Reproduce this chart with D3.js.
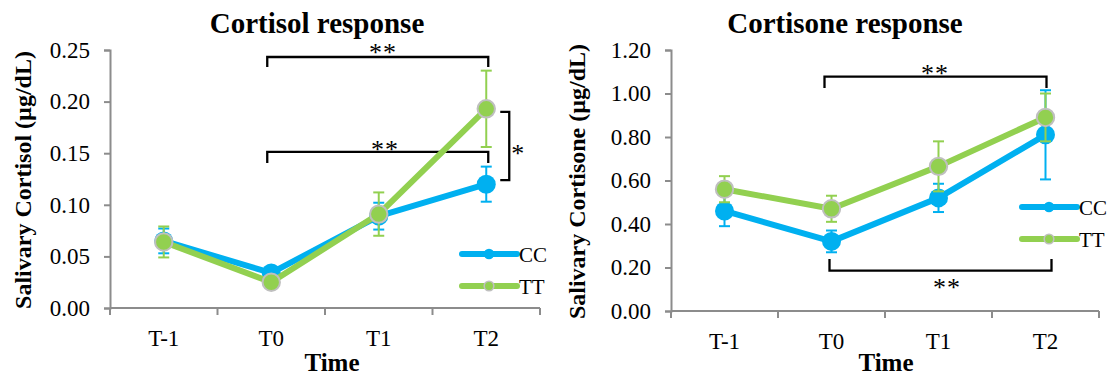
<!DOCTYPE html>
<html>
<head>
<meta charset="utf-8">
<script src="https://cdn.jsdelivr.net/npm/d3@7"></script>
<style>
  html, body { margin: 0; padding: 0; background: #fff; }
  svg { display: block; }
  text { font-family: "Liberation Serif", "Times New Roman", serif; fill: #000; }
</style>
</head>
<body>
<svg id="chart" width="1112" height="376"></svg>
<script>
// ---- data ----
const categories = ["T-1", "T0", "T1", "T2"];
const seriesNames = ["CC", "TT"];

const cortisolTicks = [0, 0.05, 0.10, 0.15, 0.20, 0.25];
const cortisolCC    = [0.065, 0.034, 0.089, 0.120];
const cortisolCCErr = [0.012, 0.004, 0.013, 0.017];
const cortisolTT    = [0.064, 0.025, 0.091, 0.193];
const cortisolTTErr = [0.015, 0.003, 0.021, 0.037];

const cortisoneTicks = [0, 0.2, 0.4, 0.6, 0.8, 1.0, 1.2];
const cortisoneCC    = [0.46, 0.32, 0.52, 0.81];
const cortisoneCCErr = [0.07, 0.05, 0.065, 0.205];
const cortisoneTT    = [0.56, 0.47, 0.665, 0.89];
const cortisoneTTErr = [0.06, 0.06, 0.115, 0.11];

const colors = { CC: "#00b0f0", TT: "#92d050" };
const markerStroke = "#bfbfbf";
const axisColor = "#8c8c8c";
const FONT = '"Liberation Serif", "Times New Roman", serif';

const svg = d3.select("#chart");

function drawPanel(cfg) {
  const g = svg.append("g");
  const x = d3.scaleBand().domain(categories).range([cfg.x0, cfg.x1]);
  const y = d3.scaleLinear().domain([0, cfg.max]).range([cfg.y0, cfg.y1]);
  const cx = c => x(c) + x.bandwidth() / 2;

  // title
  g.append("text").attr("x", cfg.titleX).attr("y", 33)
    .attr("text-anchor", "middle").attr("font-weight", "bold")
    .attr("font-size", 29).text(cfg.title);

  // y axis
  const yAxis = d3.axisLeft(y).tickValues(cfg.ticks).tickFormat(d3.format(".2f"))
    .tickSize(6).tickPadding(14);
  const ya = g.append("g").attr("transform", `translate(${cfg.x0},0)`).call(yAxis);
  ya.attr("font-size", null).attr("font-family", null);
  ya.select(".domain").attr("stroke", axisColor).attr("stroke-width", 2);
  ya.selectAll(".tick line").attr("stroke", axisColor).attr("stroke-width", 2);
  ya.selectAll(".tick text").style("font-family", FONT).style("font-size", "23px").attr("fill", "#000");

  // x axis
  const xAxis = d3.axisBottom(x).tickSize(0).tickPadding(22);
  const xa = g.append("g").attr("transform", `translate(0,${cfg.y0})`).call(xAxis);
  xa.attr("font-size", null).attr("font-family", null);
  xa.select(".domain").attr("stroke", axisColor).attr("stroke-width", 2)
    .attr("d", `M${cfg.x0},0H${cfg.x1}`);
  xa.selectAll(".tick text").style("font-family", FONT).style("font-size", "23px").attr("fill", "#000");
  const bounds = categories.map(c => x(c)).concat([cfg.x1]);
  xa.selectAll("line.bt").data(bounds).enter().append("line").attr("class", "bt")
    .attr("x1", d => d).attr("x2", d => d).attr("y1", 0).attr("y2", 7)
    .attr("stroke", axisColor).attr("stroke-width", 2);

  // axis titles
  g.append("text").attr("x", cfg.timeX).attr("y", 371).attr("text-anchor", "middle")
    .attr("font-weight", "bold").attr("font-size", 25).text("Time");
  g.append("text")
    .attr("transform", `translate(${cfg.labelX},${(cfg.y0 + cfg.y1) / 2 + 1}) rotate(-90)`)
    .attr("text-anchor", "middle").attr("dominant-baseline", "central")
    .attr("font-weight", "bold").attr("font-size", 24).text(cfg.ylabel);

  // significance brackets
  const ann = g.append("g");
  cfg.brackets(ann, x, y, cx);

  // series
  const line = d3.line().x((d, i) => cx(categories[i])).y(d => y(d));
  cfg.series.forEach(s => {
    const sg = g.append("g");
    sg.append("path").datum(s.values).attr("d", line).attr("fill", "none")
      .attr("stroke", colors[s.name]).attr("stroke-width", 6).attr("stroke-linejoin", "round");
    const eb = sg.selectAll("g.eb").data(s.values).enter().append("g");
    eb.append("line")
      .attr("x1", (d, i) => cx(categories[i])).attr("x2", (d, i) => cx(categories[i]))
      .attr("y1", (d, i) => y(d + s.err[i])).attr("y2", (d, i) => y(d - s.err[i]))
      .attr("stroke", colors[s.name]).attr("stroke-width", 2);
    [1, -1].forEach(sign => {
      eb.append("line")
        .attr("x1", (d, i) => cx(categories[i]) - 5.5).attr("x2", (d, i) => cx(categories[i]) + 5.5)
        .attr("y1", (d, i) => y(d + sign * s.err[i])).attr("y2", (d, i) => y(d + sign * s.err[i]))
        .attr("stroke", colors[s.name]).attr("stroke-width", 2);
    });
    sg.selectAll("circle").data(s.values).enter().append("circle")
      .attr("cx", (d, i) => cx(categories[i])).attr("cy", d => y(d))
      .attr("r", s.name === "TT" ? 8.7 : 9.5)
      .attr("fill", colors[s.name])
      .attr("stroke", s.name === "TT" ? markerStroke : "none")
      .attr("stroke-width", 2);
  });

  // legend
  seriesNames.forEach((n, i) => {
    const ly = cfg.legY + i * 32;
    g.append("line").attr("x1", cfg.legX).attr("x2", cfg.legX + 55)
      .attr("y1", ly).attr("y2", ly).attr("stroke", colors[n])
      .attr("stroke-width", 6).attr("stroke-linecap", "round");
    g.append("circle").attr("cx", cfg.legX + 27).attr("cy", ly).attr("r", n === "TT" ? 4.8 : 5.3)
      .attr("fill", colors[n]).attr("stroke", n === "TT" ? markerStroke : "none").attr("stroke-width", 1.6);
    g.append("text").attr("x", cfg.legX + 57).attr("y", ly + 8)
      .attr("font-size", 21).text(n);
  });
}

function bracketPath(ann, d) {
  ann.append("path").attr("d", d).attr("fill", "none")
    .attr("stroke", "#000").attr("stroke-width", 2.3);
}
function stars(ann, x, yc, txt) {
  ann.append("text").attr("x", x).attr("y", yc + 13).attr("text-anchor", "middle")
    .attr("font-size", 26).attr("letter-spacing", 1).text(txt);
}

drawPanel({
  title: "Cortisol response", titleX: 317,
  x0: 110, x1: 540, y0: 308, y1: 50, max: 0.25, ticks: cortisolTicks,
  ylabel: "Salivary Cortisol (\u00b5g/dL)", labelX: 23, timeX: 332,
  legX: 462, legY: 254,
  series: [
    { name: "CC", values: cortisolCC, err: cortisolCCErr },
    { name: "TT", values: cortisolTT, err: cortisolTTErr }
  ],
  brackets: (ann, x, y, cx) => {
    const a = cx("T0") - 4, b = cx("T2") + 2;
    bracketPath(ann, `M${a},${y(0.2335)}V${y(0.2432)}H${b}V${y(0.2335)}`);
    stars(ann, 383, y(0.2515), "**");
    bracketPath(ann, `M${a},${y(0.1405)}V${y(0.1512)}H${b}V${y(0.1405)}`);
    stars(ann, 385, y(0.158), "**");
    const vx = cx("T2") + 23;
    bracketPath(ann, `M${vx - 9},${y(0.190)}H${vx}V${y(0.124)}H${vx - 9}`);
    stars(ann, vx + 9, y(0.154), "*");
  }
});

drawPanel({
  title: "Cortisone response", titleX: 845,
  x0: 671, x1: 1099, y0: 311, y1: 50, max: 1.2, ticks: cortisoneTicks,
  ylabel: "Salivary Cortisone (\u00b5g/dL)", labelX: 577, timeX: 886,
  legX: 1022, legY: 207,
  series: [
    { name: "CC", values: cortisoneCC, err: cortisoneCCErr },
    { name: "TT", values: cortisoneTT, err: cortisoneTTErr }
  ],
  brackets: (ann, x, y, cx) => {
    const a = cx("T0") - 7, b = cx("T2") + 1;
    bracketPath(ann, `M${a},${y(1.025)}V${y(1.078)}H${b}V${y(1.025)}`);
    stars(ann, 935, y(1.114), "**");
    const c = cx("T0") - 2, d = cx("T2") + 6;
    bracketPath(ann, `M${c},${y(0.239)}V${y(0.186)}H${d}V${y(0.239)}`);
    stars(ann, 947, y(0.128), "**");
  }
});
</script>
</body>
</html>
